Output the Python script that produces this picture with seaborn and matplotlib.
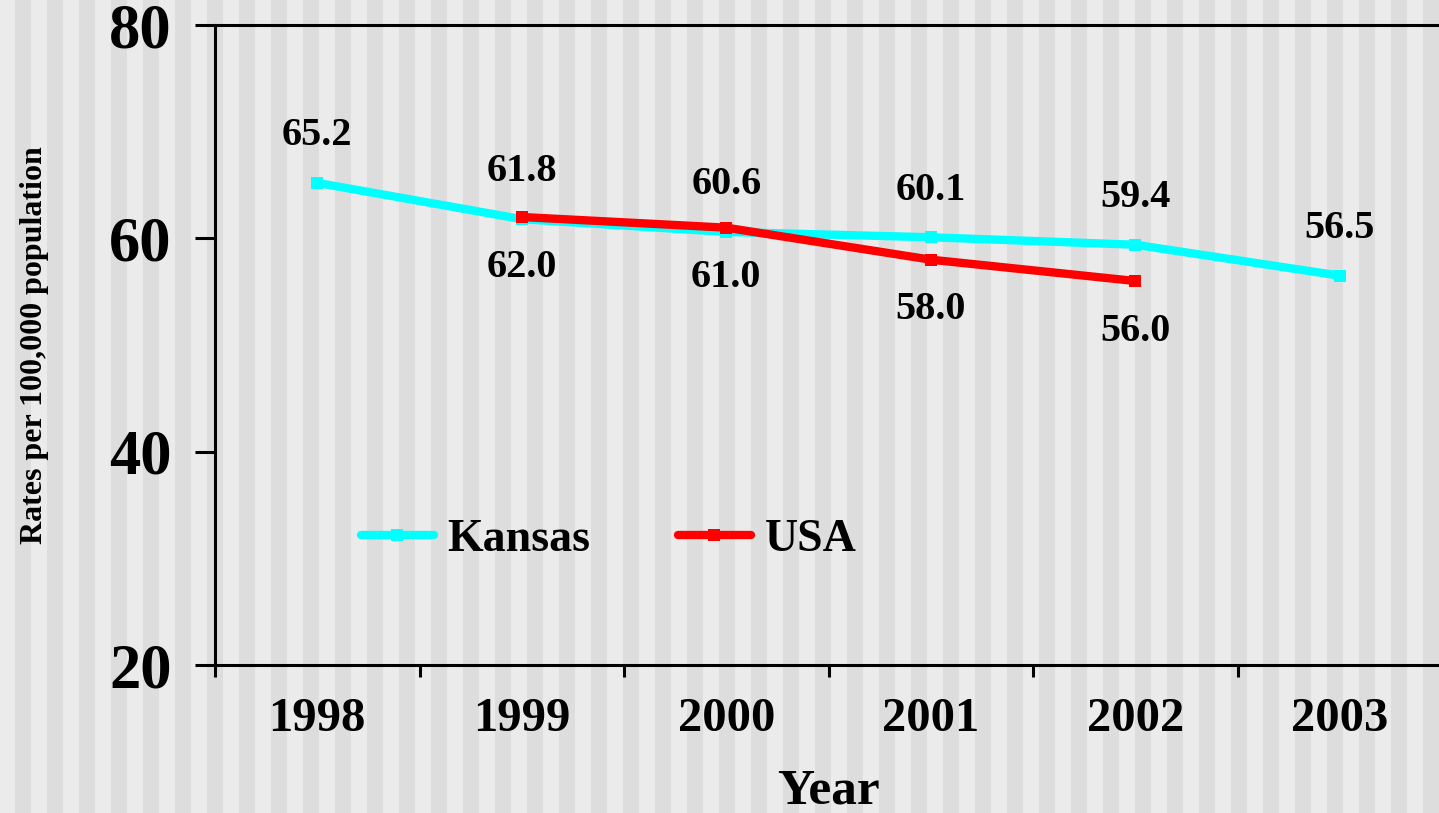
import matplotlib
matplotlib.use("Agg")
import matplotlib.pyplot as plt
from matplotlib.patches import Rectangle
from matplotlib.ticker import FixedLocator
import seaborn as sns
import pandas as pd

years = [1998, 1999, 2000, 2001, 2002, 2003]
kansas = [65.2, 61.8, 60.6, 60.1, 59.4, 56.5]
usa_years = [1999, 2000, 2001, 2002]
usa = [62.0, 61.0, 58.0, 56.0]
y_ticks = [20, 40, 60, 80]

sns.set_theme(style="ticks")
plt.rcParams["font.family"] = ["Liberation Serif", "DejaVu Serif"]
plt.rcParams["font.weight"] = "bold"
plt.rcParams["text.color"] = "black"
plt.rcParams["axes.labelcolor"] = "black"
plt.rcParams["xtick.color"] = "black"
plt.rcParams["ytick.color"] = "black"

W, H = 1439, 813
fig = plt.figure(figsize=(W / 100, H / 100), dpi=100, facecolor="#EBEBEB")
# vertical striped background
k = 0
while 15 + 32 * k < W:
    fig.patches.append(Rectangle(((15 + 32 * k) / W, 0), 16 / W, 1,
                                 transform=fig.transFigure, facecolor="#DDDDDD",
                                 edgecolor="none", zorder=-10))
    k += 1

ax = fig.add_axes([215 / W, 1 - 665 / H, 1227 / W, 640 / H])
ax.set_facecolor("none")

df_k = pd.DataFrame({"Year": years, "Rate": kansas})
df_u = pd.DataFrame({"Year": usa_years, "Rate": usa})
sns.lineplot(data=df_k, x="Year", y="Rate", ax=ax, color="#00FFFF", linewidth=6,
             marker="s", markersize=8, markeredgewidth=0, label="Kansas")
sns.lineplot(data=df_u, x="Year", y="Rate", ax=ax, color="#FF0000", linewidth=6,
             marker="s", markersize=8, markeredgewidth=0, label="USA")

for x, v in zip(years, kansas):
    ax.annotate(f"{v:.1f}", (x, v), xytext=(0, 34), textcoords="offset points",
                ha="center", va="center", fontsize=29, fontweight="bold", color="black")
for x, v in zip(usa_years, usa):
    ax.annotate(f"{v:.1f}", (x, v), xytext=(0, -36), textcoords="offset points",
                ha="center", va="center", fontsize=29, fontweight="bold", color="black")

ax.set_xlim(1997.5, 2003.5)
ax.set_ylim(20, 80)
ax.set_yticks(y_ticks)
ax.set_yticklabels([str(t) for t in y_ticks], fontsize=45, fontweight="bold")
ax.set_xticks(years)
ax.set_xticklabels([str(y) for y in years], fontsize=35, fontweight="bold")
ax.xaxis.set_minor_locator(FixedLocator([y - 0.5 for y in years] + [2003.5]))
ax.tick_params(axis="x", which="major", length=0, pad=23, colors="black")
ax.tick_params(axis="x", which="minor", length=8.6, width=2.2, direction="out", color="black")
ax.tick_params(axis="y", which="major", length=14.4, width=2.2, direction="out", pad=17, colors="black")

for s in ["left", "bottom", "top"]:
    ax.spines[s].set_visible(True)
    ax.spines[s].set_linewidth(2.2)
    ax.spines[s].set_color("black")
ax.spines["right"].set_visible(False)

ax.set_xlabel("Year", fontsize=37, fontweight="bold", color="black")
ax.xaxis.set_label_coords(0.5, -0.162)
ax.set_ylabel("Rates per 100,000 population", fontsize=23, fontweight="bold", color="black")
ax.yaxis.set_label_coords(-0.135, 0.5)

leg = ax.legend(loc="center left", bbox_to_anchor=(0.085, 0.195), ncol=2, frameon=False,
                fontsize=33, handlelength=1.6, handletextpad=0.3, columnspacing=1.9)
for t in leg.get_texts():
    t.set_fontweight("bold")
    t.set_color("black")

fig.savefig("out.png", dpi=100, facecolor=fig.get_facecolor())
